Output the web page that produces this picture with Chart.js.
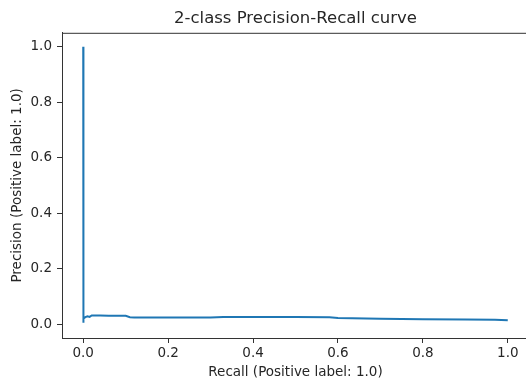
<!DOCTYPE html>
<html>
<head>
<meta charset="utf-8">
<script src="https://cdn.jsdelivr.net/npm/chart.js@4"></script>
<style>
  html, body { margin: 0; padding: 0; background: #fff; overflow: hidden; }
  #wrap { width: 535px; height: 385px; }
</style>
</head>
<body>
<div id="wrap"><canvas id="prChart"></canvas></div>
<script>
// values
const recall    = [0, 0, 0.001, 0.005, 0.01, 0.015, 0.02, 0.04, 0.06, 0.1, 0.11, 0.12, 0.3, 0.33, 0.5, 0.58, 0.6, 0.7, 0.8, 0.9, 0.97, 1.0];
const precision = [1.0, 0.005, 0.02, 0.025, 0.028, 0.026, 0.031, 0.031, 0.030, 0.030, 0.025, 0.024, 0.024, 0.026, 0.026, 0.025, 0.022, 0.019, 0.018, 0.017, 0.016, 0.014];
const xTicks = [0, 0.2, 0.4, 0.6, 0.8, 1.0];
const yTicks = [0, 0.2, 0.4, 0.6, 0.8, 1.0];

const txt = '#262626';
const font = { family: 'DejaVu Sans', size: 13.5 };

// matplotlib style box round the axes
const boxPlugin = {
  id: 'box',
  afterDraw(chart) {
    const a = chart.chartArea, ctx = chart.ctx;
    ctx.save();
    ctx.strokeStyle = '#333';
    ctx.lineWidth = 1;
    ctx.strokeRect(a.left + 0.5, a.top + 0.5, a.right - a.left, a.bottom - a.top);
    ctx.restore();
  }
};

new Chart(document.getElementById('prChart'), {
  type: 'line',
  data: {
    datasets: [{
      data: recall.map((r, i) => ({ x: r, y: precision[i] })),
      borderColor: '#1f77b4',
      borderWidth: 2,
      pointRadius: 0,
      tension: 0,
      fill: false
    }]
  },
  options: {
    responsive: true,
    maintainAspectRatio: false,
    animation: false,
    layout: { padding: { left: 0, right: 6, top: 0, bottom: 0 } },
    plugins: {
      legend: { display: false },
      tooltip: { enabled: false },
      title: {
        display: true,
        fullSize: false,   // centre over the plot, not the canvas
        text: '2-class Precision-Recall curve',
        color: txt,
        font: { family: 'DejaVu Sans', size: 16.5, weight: 'normal' },
        padding: { top: 9, bottom: 4 }
      }
    },
    scales: {
      x: {
        type: 'linear',
        min: -0.05,
        max: 1.05,
        afterBuildTicks: s => { s.ticks = xTicks.map(v => ({ value: v })); },
        afterFit: s => { s.height = 47; },
        ticks: { color: txt, font: font, padding: 2, maxRotation: 0,
                 callback: v => v.toFixed(1) },
        grid: { drawOnChartArea: false, drawTicks: true, tickLength: 5, color: '#333' },
        border: { display: true, color: '#333' },
        title: { display: true, text: 'Recall (Positive label: 1.0)', color: txt,
                 font: font, padding: { top: 0, bottom: 4 } }
      },
      y: {
        type: 'linear',
        min: -0.05,
        max: 1.05,
        afterBuildTicks: s => { s.ticks = yTicks.map(v => ({ value: v })); },
        afterFit: s => { s.width = 62; },
        ticks: { color: txt, font: font, padding: 5,
                 callback: v => v.toFixed(1) },
        grid: { drawOnChartArea: false, drawTicks: true, tickLength: 5, color: '#333' },
        border: { display: true, color: '#333' },
        title: { display: true, text: 'Precision (Positive label: 1.0)', color: txt,
                 font: font, padding: { top: 9, bottom: 0 } }
      }
    }
  },
  plugins: [boxPlugin]
});
</script>
</body>
</html>
